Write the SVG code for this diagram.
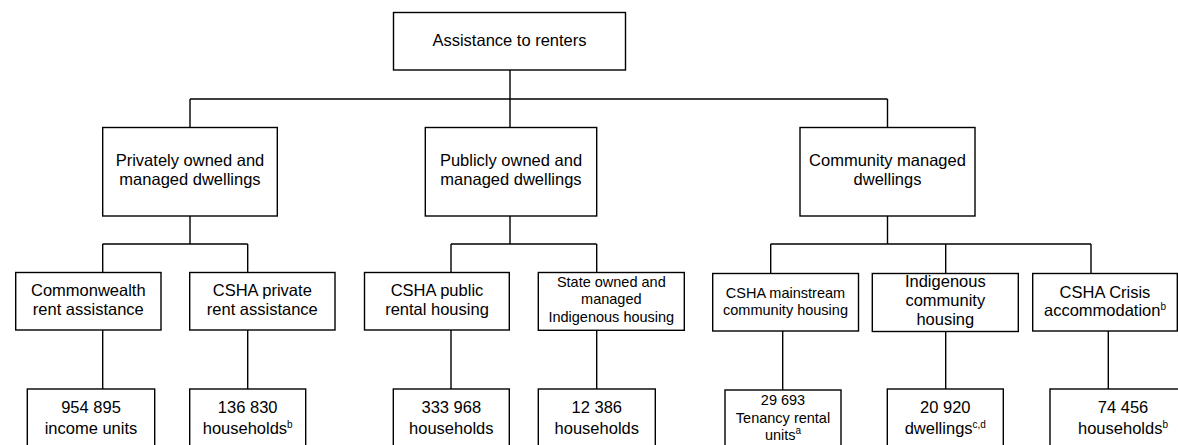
<svg xmlns="http://www.w3.org/2000/svg" width="1178" height="445" viewBox="0 0 1178 445">
  <style>
    .box { fill: #ffffff; stroke: #000000; stroke-width: 1.4; }
    .wire { fill: none; stroke: #000000; stroke-width: 1.4; }
    text { font-family: "Liberation Sans", Arial, sans-serif; font-size: 16.5px; fill: #000000; text-anchor: middle; }
    text.small { font-size: 14.5px; }
    .sup { font-size: 10px; }
  </style>

  <!-- tree connectors -->
  <g id="connectors">
    <path class="wire" d="M510,70 V99 M190,99 H887.5 M190,99 V127.5 M510,99 V127.5 M887.5,99 V127.5"/>
    <path class="wire" d="M190,216 V244 M102.7,244 H247.7 M102.7,244 V272.5 M247.7,244 V272.5"/>
    <path class="wire" d="M510,216 V244 M451,244 H596.7 M451,244 V272.5 M596.7,244 V272.5"/>
    <path class="wire" d="M887.5,216 V244 M770.7,244 H1091 M770.7,244 V273.5 M945.7,244 V273.5 M1091,244 V273.5"/>
    <path class="wire" d="M102.7,330 V389 M247.7,330 V389 M451,330 V389 M596.7,330 V389 M782.7,331 V390 M945.7,331.5 V389 M1108.3,331 V389"/>
  </g>

  <!-- root -->
  <g id="n-root">
    <rect class="box" x="393.5" y="12.5" width="232" height="57.5"/>
    <text x="509.5" y="46">Assistance to renters</text>
  </g>

  <!-- second level -->
  <g id="n-private">
    <rect class="box" x="102.7" y="127.5" width="174.6" height="88.5"/>
    <text x="190" y="165.7">Privately owned and</text>
    <text x="190" y="184.7">managed dwellings</text>
  </g>
  <g id="n-public">
    <rect class="box" x="425.3" y="127.5" width="171.4" height="88.5"/>
    <text x="511" y="165.7">Publicly owned and</text>
    <text x="511" y="184.7">managed dwellings</text>
  </g>
  <g id="n-community">
    <rect class="box" x="800" y="127.5" width="175" height="88.5"/>
    <text x="887.5" y="165.7">Community managed</text>
    <text x="887.5" y="184.7">dwellings</text>
  </g>

  <!-- third level -->
  <g id="n-cra">
    <rect class="box" x="15.7" y="272.5" width="145.3" height="57.5"/>
    <text x="88.3" y="295.7">Commonwealth</text>
    <text x="88.3" y="315">rent assistance</text>
  </g>
  <g id="n-csha-private">
    <rect class="box" x="189.7" y="272.5" width="145.3" height="57.5"/>
    <text x="262.3" y="295.7">CSHA private</text>
    <text x="262.3" y="315">rent assistance</text>
  </g>
  <g id="n-csha-public">
    <rect class="box" x="364.5" y="272.5" width="144.8" height="57.5"/>
    <text x="437" y="295.7">CSHA public</text>
    <text x="437" y="315">rental housing</text>
  </g>
  <g id="n-state-indigenous">
    <rect class="box" x="538.3" y="272.5" width="146" height="57.8"/>
    <text class="small" x="611.3" y="286.7">State owned and</text>
    <text class="small" x="611.3" y="304.3">managed</text>
    <text class="small" x="611.3" y="321.8">Indigenous housing</text>
  </g>
  <g id="n-csha-mainstream">
    <rect class="box" x="712.7" y="273.5" width="145.8" height="57.5"/>
    <text class="small" x="785.5" y="298.3">CSHA mainstream</text>
    <text class="small" x="785.5" y="315.2">community housing</text>
  </g>
  <g id="n-indigenous-community">
    <rect class="box" x="872.3" y="273.5" width="146" height="58"/>
    <text x="945.3" y="286.7">Indigenous</text>
    <text x="945.3" y="306">community</text>
    <text x="945.3" y="325">housing</text>
  </g>
  <g id="n-csha-crisis">
    <rect class="box" x="1032.7" y="273.5" width="144.6" height="57.5"/>
    <text x="1105" y="297.7">CSHA Crisis</text>
    <text x="1105" y="316">accommodation<tspan class="sup" dy="-6">b</tspan></text>
  </g>

  <!-- counts -->
  <g id="n-count-cra">
    <rect class="box" x="27.3" y="389" width="127.4" height="70"/>
    <text x="91" y="413">954 895</text>
    <text x="91" y="433.5">income units</text>
  </g>
  <g id="n-count-csha-private">
    <rect class="box" x="189.7" y="389" width="116" height="70"/>
    <text x="247.7" y="413">136 830</text>
    <text x="247.7" y="433.5">households<tspan class="sup" dy="-6">b</tspan></text>
  </g>
  <g id="n-count-csha-public">
    <rect class="box" x="393.3" y="389" width="116" height="70"/>
    <text x="451.3" y="413">333 968</text>
    <text x="451.3" y="433.5">households</text>
  </g>
  <g id="n-count-state-indigenous">
    <rect class="box" x="538.3" y="389" width="117" height="70"/>
    <text x="596.8" y="413">12 386</text>
    <text x="596.8" y="433.5">households</text>
  </g>
  <g id="n-count-csha-mainstream">
    <rect class="box" x="725" y="390" width="116" height="70"/>
    <text class="small" x="783" y="405">29 693</text>
    <text class="small" x="783" y="422.5">Tenancy rental</text>
    <text class="small" x="783" y="440">units<tspan class="sup" dy="-6">a</tspan></text>
  </g>
  <g id="n-count-indigenous-community">
    <rect class="box" x="887.3" y="389" width="116" height="70"/>
    <text x="945.3" y="413">20 920</text>
    <text x="945.3" y="433.5">dwellings<tspan class="sup" dy="-6">c,d</tspan></text>
  </g>
  <g id="n-count-csha-crisis">
    <rect class="box" x="1050" y="389" width="146" height="70"/>
    <text x="1123" y="413">74 456</text>
    <text x="1123" y="433.5">households<tspan class="sup" dy="-6">b</tspan></text>
  </g>
</svg>
